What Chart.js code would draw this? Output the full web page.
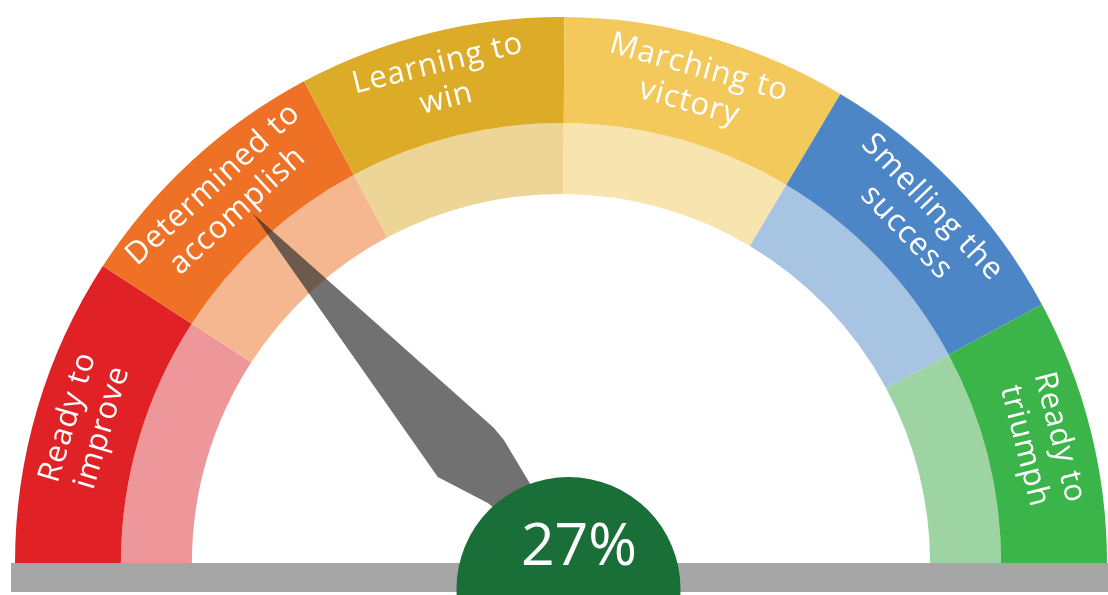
<!DOCTYPE html>
<html>
<head>
<meta charset="utf-8">
<script src="https://cdn.jsdelivr.net/npm/chart.js@4/dist/chart.umd.min.js"></script>
<style>
  html, body { margin: 0; padding: 0; background: #fff; }
  #wrap { width: 1108px; height: 595px; position: relative; }
</style>
</head>
<body>
<div id="wrap"><canvas id="gauge"></canvas></div>
<script>
// band widths in percent of the dial
var bandLabels = ['Ready to improve', 'Determined to accomplish', 'Learning to win',
                  'Marching to victory', 'Smelling the success', 'Ready to triumph'];
var labelLines = [['Ready to', 'improve'], ['Determined to', 'accomplish'], ['Learning to', 'win'],
                  ['Marching to', 'victory'], ['Smelling the', 'success'], ['Ready to', 'triumph']];
var bandSizes = [18.3, 16.1, 15.8, 16.9, 17.2, 15.7];
var score = 27;

var strongColors = ['#e02227', '#ee7125', '#dcab27', '#f4c95b', '#4d86c6', '#3bb54a'];
var lightColors  = ['#ee979b', '#f5b790', '#edd598', '#f8e4ae', '#a8c4e3', '#9dd4a1'];

var gaugeExtras = {
  id: 'gaugeExtras',
  afterDatasetsDraw: function(chart) {
    var ctx = chart.ctx;
    var arcs = chart.getDatasetMeta(0).data;
    var cx = arcs[0].x, cy = arcs[0].y;
    var start = arcs[0].startAngle, end = arcs[arcs.length - 1].endAngle;

    ctx.save();
    // base bar
    ctx.fillStyle = '#a6a6a6';
    ctx.fillRect(11, cy, chart.width - 11, 29);

    // needle
    var a = start + (end - start) * score / 100;
    ctx.save();
    ctx.translate(cx, cy);
    ctx.rotate(a);
    ctx.beginPath();
    ctx.moveTo(466, 0);
    ctx.lineTo(146, 39);
    ctx.lineTo(130, 38.5);
    ctx.lineTo(84, 30);
    ctx.lineTo(30, 20);
    ctx.lineTo(30, -6);
    ctx.lineTo(93, -15);
    ctx.lineTo(146, -35.5);
    ctx.closePath();
    ctx.fillStyle = 'rgba(45,45,45,0.68)';
    ctx.fill();
    ctx.restore();

    // band labels along the outer ring
    ctx.fillStyle = '#ffffff';
    ctx.font = '31px "Open Sans"';
    ctx.letterSpacing = '1px';
    ctx.textAlign = 'center';
    ctx.textBaseline = 'middle';
    arcs.forEach(function(arc, i) {
      var mid = (arc.startAngle + arc.endAngle) / 2;
      var r = (arc.innerRadius + arc.outerRadius) / 2 + 3;
      ctx.save();
      ctx.translate(cx + Math.cos(mid) * r, cy + Math.sin(mid) * r);
      ctx.rotate(mid + Math.PI / 2);
      ctx.fillText(labelLines[i][0], 0, -18);
      ctx.fillText(labelLines[i][1], 0, 18);
      ctx.restore();
    });
    ctx.letterSpacing = '0px';

    // hub
    ctx.beginPath();
    ctx.arc(cx + 7.5, cy + 26, 112, 0, Math.PI * 2);
    ctx.fillStyle = '#1a6e37';
    ctx.fill();
    ctx.fillStyle = '#ffffff';
    ctx.font = '59px "Open Sans"';
    ctx.textBaseline = 'alphabetic';
    ctx.fillText(score + '%', cx + 18, cy + 2);
    ctx.restore();
  }
};

new Chart(document.getElementById('gauge'), {
  type: 'doughnut',
  data: {
    labels: bandLabels,
    datasets: [
      { data: bandSizes, backgroundColor: strongColors, borderWidth: 0, weight: 106 },
      { data: bandSizes, backgroundColor: lightColors, borderWidth: 0, weight: 71 }
    ]
  },
  options: {
    responsive: true,
    maintainAspectRatio: false,
    animation: false,
    rotation: -90,
    circumference: 180,
    cutout: '67.6%',
    layout: { padding: { left: 15, right: 1, top: 17, bottom: 32 } },
    plugins: {
      legend: { display: false },
      tooltip: { enabled: false }
    }
  },
  plugins: [gaugeExtras]
});
</script>
</body>
</html>
